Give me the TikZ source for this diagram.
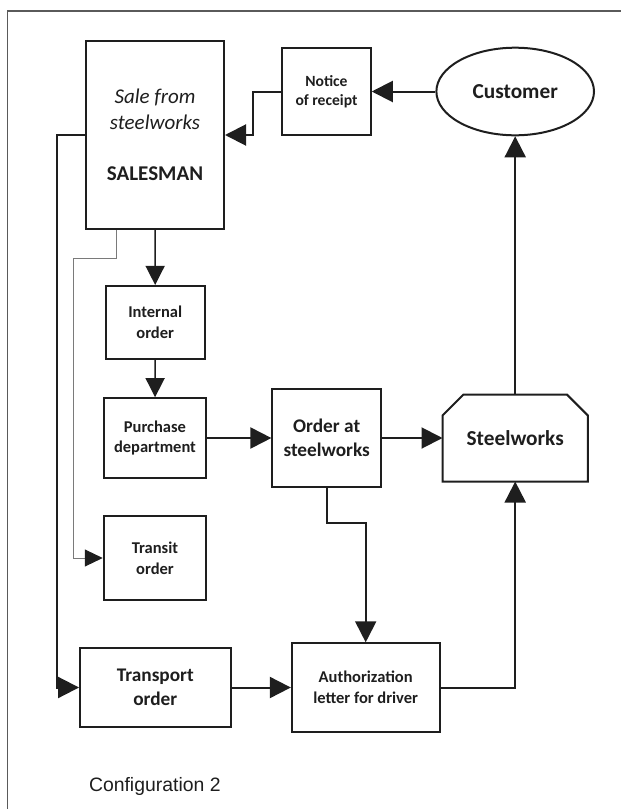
\documentclass[tikz,border=0pt]{standalone}
\usepackage{fontspec}
\setmainfont{Carlito}
\newfontfamily\captionfont{Liberation Sans}
\usetikzlibrary{arrows.meta,shapes.geometric,calc}

\definecolor{ink}{HTML}{1E1E1E}
\definecolor{framegray}{HTML}{5A5A5A}
\definecolor{thingray}{HTML}{7A7A7A}

\tikzset{
  box/.style={draw=ink, line width=2pt, rectangle, inner sep=0pt, align=center, text=ink},
  bigtext/.style={font=\fontsize{21.3}{26}\selectfont\bfseries},
  midtext/.style={font=\fontsize{19.3}{23.5}\selectfont\bfseries},
  smalltext/.style={font=\fontsize{16.5}{20.6}\selectfont\bfseries},
  conn/.style={draw=ink, line width=2pt, -{Triangle[length=21pt,width=21pt]}},
  thinconn/.style={draw=ink, line width=1.3pt, -{Triangle[length=19pt,width=19pt]}},
  grayconn/.style={draw=thingray, line width=1pt, -{Triangle[length=18pt,width=17pt,color=ink,fill=ink]}},
}

\begin{document}
\begin{tikzpicture}[x=1pt, y=-1pt]
  \useasboundingbox (0,0) rectangle (621,809);

  % outer frame (open to the right and bottom)
  \draw[framegray, line width=1.4pt] (621,11) -- (7.3,11) -- (7.3,809);

  % boxes
  \node[box, font=\fontsize{21}{25.7}\selectfont, minimum width=138pt, minimum height=188pt] (sales) at (155,135)
    {\itshape Sale from\\\itshape steelworks\\[25.7pt]\bfseries SALESMAN};
  \node[box, font=\fontsize{15.6}{19}\selectfont\bfseries, minimum width=88.5pt, minimum height=87.6pt] (notice) at (326.5,91.5) {Notice\\of receipt};
  \node[box, ellipse, bigtext, minimum width=157.6pt, minimum height=87.6pt] (customer) at (515.2,91.5) {Customer};
  \node[box, smalltext, minimum width=99pt, minimum height=72.7pt] (internal) at (155.2,322.3) {Internal\\order};
  \node[box, smalltext, minimum width=102.5pt, minimum height=79.6pt] (purchase) at (155,438) {Purchase\\department};
  \node[box, midtext, minimum width=108.6pt, minimum height=98.3pt] (order) at (326.7,438) {Order at\\steelworks};
  \node[box, draw=none, bigtext, minimum width=143.4pt, minimum height=85pt] (steel) at (515.2,438) {Steelworks};
  \node[box, smalltext, minimum width=102.5pt, minimum height=84pt] (transit) at (155,558) {Transit\\order};
  \node[box, midtext, minimum width=150.5pt, minimum height=78.4pt] (transport) at (155.3,687.5) {Transport\\order};
  \node[box, smalltext, minimum width=147.7pt, minimum height=88.4pt] (auth) at (365.7,687.5) {Authorization\\letter for driver};

  % steelworks outline with chamfered upper corners
  \draw[ink, line width=2pt, line join=miter]
    (steel.south west) -- ($(steel.north west)+(0,21)$) -- ($(steel.north west)+(21,0)$)
    -- ($(steel.north east)+(-21,0)$) -- ($(steel.north east)+(0,21)$) -- (steel.south east) -- cycle;

  \node[text=ink, font=\captionfont\fontsize{19.4}{23}\selectfont, anchor=base] (caption) at (154.8,791) {Configuration 2};

  % routing points
  \coordinate (g1) at (116,258);
  \coordinate (g2) at (73.3,258);

  % connectors
  \draw[conn] (customer) -- (notice);
  \draw[conn] (notice.west) -- ++(-28.7,0) |- (sales.east);
  \draw[conn] (sales.west) -- ++(-28,0) |- (transport.west);
  \draw[grayconn] (sales.south -| g1) -- (g1) -- (g2) |- (transit.west);
  \draw[thinconn] (sales) -- (internal);
  \draw[thinconn] (internal) -- (purchase);
  \draw[conn] (purchase) -- (order);
  \draw[conn] (order) -- (steel);
  \draw[conn] (order.south) -- ++(0,35.3) -| (auth.north);
  \draw[conn] (transport) -- (auth);
  \draw[conn] (auth.east) -| (steel.south);
  \draw[conn] (steel.north) -- (customer.south);
\end{tikzpicture}
\end{document}
